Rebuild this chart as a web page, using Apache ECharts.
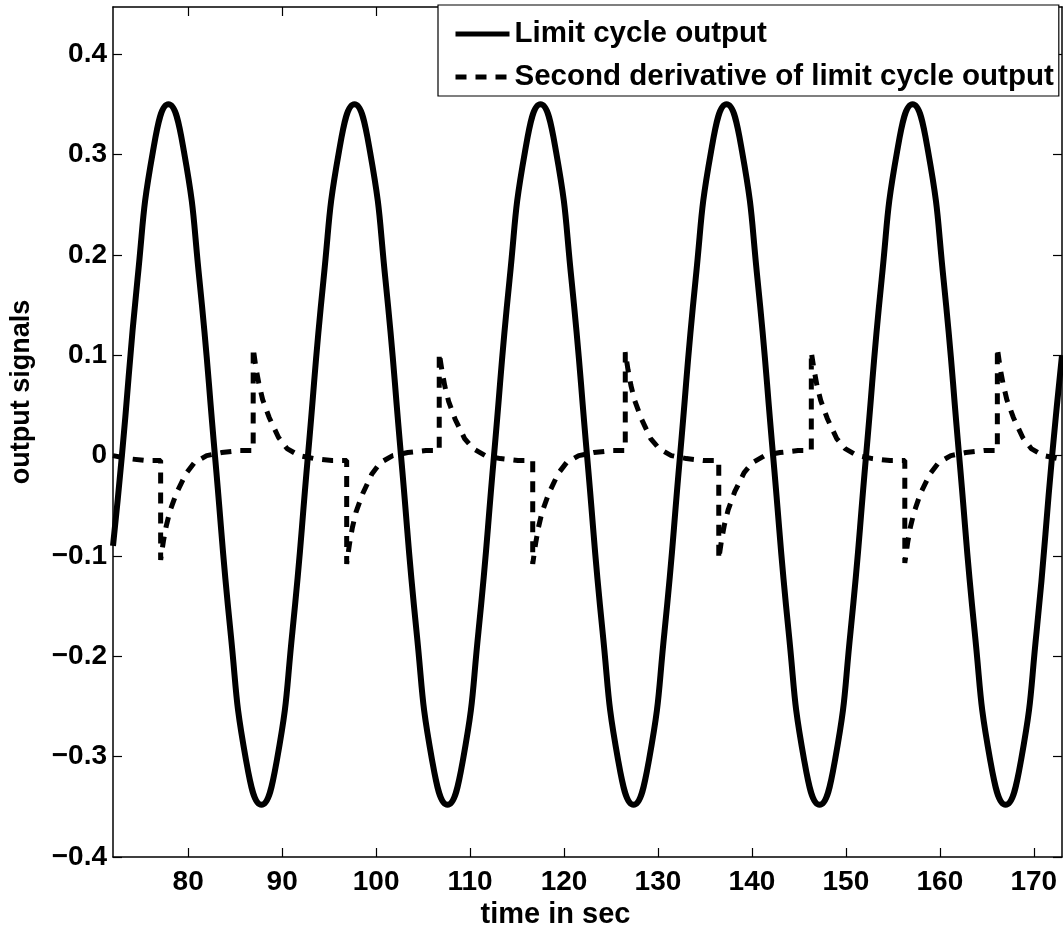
<!DOCTYPE html>
<html>
<head>
<meta charset="utf-8">
<script src="https://cdn.jsdelivr.net/npm/echarts@6/dist/echarts.min.js"></script>
<style>
html,body{margin:0;padding:0;background:#fff;}
#chart{width:1063px;height:926px;}
</style>
</head>
<body>
<div id="chart"></div>
<script>
// ---- data ----
const xTickValues = [80, 90, 100, 110, 120, 130, 140, 150, 160, 170];
const xTickLabels = ['80', '90', '100', '110', '120', '130', '140', '150', '160', '170'];
const yTickValues = [-0.4, -0.3, -0.2, -0.1, 0, 0.1, 0.2, 0.3, 0.4];
const yTickLabels = ['\u22120.4', '\u22120.3', '\u22120.2', '\u22120.1', '0', '0.1', '0.2', '0.3', '0.4'];
const seriesNames = ['Limit cycle output', 'Second derivative of limit cycle output'];

// limit cycle output  [time, value]
const limitCycle = [
  [72.0, -0.09],
  [72.95, 0], [74.6, 0.175], [76.25, 0.303], [77.9, 0.35], [79.55, 0.303], [81.2, 0.175],
  [82.85, 0], [84.5, -0.175], [86.15, -0.303], [87.8, -0.348], [89.45, -0.303], [91.1, -0.175],
  [92.75, 0], [94.4, 0.175], [96.05, 0.303], [97.7, 0.35], [99.35, 0.303], [101.0, 0.175],
  [102.65, 0], [104.3, -0.175], [105.95, -0.303], [107.6, -0.348], [109.25, -0.303], [110.9, -0.175],
  [112.55, 0], [114.2, 0.175], [115.85, 0.303], [117.5, 0.35], [119.15, 0.303], [120.8, 0.175],
  [122.45, 0], [124.1, -0.175], [125.75, -0.303], [127.4, -0.348], [129.05, -0.303], [130.7, -0.175],
  [132.35, 0], [134.0, 0.175], [135.65, 0.303], [137.3, 0.35], [138.95, 0.303], [140.6, 0.175],
  [142.25, 0], [143.9, -0.175], [145.55, -0.303], [147.2, -0.348], [148.85, -0.303], [150.5, -0.175],
  [152.15, 0], [153.8, 0.175], [155.45, 0.303], [157.1, 0.35], [158.75, 0.303], [160.4, 0.175],
  [162.05, 0], [163.7, -0.175], [165.35, -0.303], [167.0, -0.348], [168.65, -0.303], [170.3, -0.175],
  [171.95, 0], [173.0, 0.10]
];

// second derivative of limit cycle output  [time, value]
const secondDeriv = [
  [72.0, 0.000], [73.6, -0.003], [75.5, -0.005],
  [77.07, -0.005], [77.07, -0.104], [77.37, -0.085], [77.67, -0.070], [78.07, -0.055], [78.77, -0.037],
  [79.77, -0.018], [80.67, -0.007], [81.97, 0.000], [83.57, 0.003], [85.5, 0.005],
  [86.92, 0.005], [86.92, 0.107], [87.22, 0.087], [87.52, 0.072], [87.92, 0.056], [88.62, 0.038],
  [89.62, 0.018], [90.52, 0.007], [91.82, 0.000], [93.42, -0.003], [95.3, -0.005],
  [96.87, -0.005], [96.87, -0.108], [97.17, -0.088], [97.47, -0.072], [97.87, -0.056], [98.57, -0.038],
  [99.57, -0.018], [100.47, -0.007], [101.77, 0.000], [103.37, 0.003], [105.3, 0.005],
  [106.72, 0.005], [106.72, 0.102], [107.02, 0.084], [107.32, 0.069], [107.72, 0.054], [108.42, 0.036],
  [109.42, 0.017], [110.32, 0.007], [111.62, 0.000], [113.22, -0.003], [115.1, -0.005],
  [116.67, -0.005], [116.67, -0.108], [116.97, -0.088], [117.27, -0.072], [117.67, -0.056], [118.37, -0.038],
  [119.37, -0.018], [120.27, -0.007], [121.57, 0.000], [123.17, 0.003], [125.1, 0.005],
  [126.52, 0.005], [126.52, 0.103], [126.82, 0.085], [127.12, 0.070], [127.52, 0.055], [128.22, 0.037],
  [129.22, 0.017], [130.12, 0.007], [131.42, 0.000], [133.02, -0.003], [134.9, -0.005],
  [136.47, -0.005], [136.47, -0.103], [136.77, -0.084], [137.07, -0.069], [137.47, -0.054], [138.17, -0.036],
  [139.17, -0.017], [140.07, -0.007], [141.37, 0.000], [142.97, 0.003], [144.9, 0.005],
  [146.32, 0.005], [146.32, 0.103], [146.62, 0.085], [146.92, 0.070], [147.32, 0.055], [148.02, 0.037],
  [149.02, 0.017], [149.92, 0.007], [151.22, 0.000], [152.82, -0.003], [154.7, -0.005],
  [156.27, -0.005], [156.27, -0.107], [156.57, -0.087], [156.87, -0.071], [157.27, -0.056], [157.97, -0.037],
  [158.97, -0.018], [159.87, -0.007], [161.17, 0.000], [162.77, 0.003], [164.7, 0.005],
  [166.12, 0.005], [166.12, 0.107], [166.42, 0.087], [166.72, 0.072], [167.12, 0.056], [167.82, 0.038],
  [168.82, 0.018], [169.72, 0.007], [171.02, 0.000], [172.62, -0.003], [173.0, -0.003]
];

// ---- chart ----
const FONT = '"Liberation Sans", Arial, Helvetica, sans-serif';
const chart = echarts.init(document.getElementById('chart'), null, {renderer: 'canvas'});

function xLabel(v) {
  const i = xTickValues.findIndex(t => Math.abs(t - v) < 1e-6);
  return i >= 0 ? xTickLabels[i] : '';
}
function yLabel(v) {
  const i = yTickValues.findIndex(t => Math.abs(t - v) < 1e-6);
  return i >= 0 ? yTickLabels[i] : '';
}

const axisLineStyle = {color: '#000', width: 1.5};
const tickStyle = {show: true, inside: true, length: 9, lineStyle: {color: '#000', width: 1.2}};
const dashType = [11, 9];

chart.setOption({
  animation: false,
  backgroundColor: '#fff',
  grid: {left: 113, right: 1, top: 7, bottom: 69, containLabel: false, outerBoundsMode: 'none'},
  legend: {
    orient: 'vertical',
    left: 438,
    top: 5,
    itemWidth: 54,
    itemHeight: 14,
    itemGap: 11,
    padding: [13, 5, 3, 15],
    backgroundColor: '#fff',
    borderColor: '#000',
    borderWidth: 1.2,
    borderRadius: 0,
    itemStyle: {color: 'rgba(0,0,0,0)', borderWidth: 0, opacity: 0},
    data: [
      {name: seriesNames[0], lineStyle: {color: '#000', width: 5, type: 'solid'}},
      {name: seriesNames[1], lineStyle: {color: '#000', width: 5, type: dashType}}
    ],
    textStyle: {fontFamily: FONT, fontWeight: 'bold', fontSize: 29.5, color: '#000', lineHeight: 32}
  },
  xAxis: [{
    type: 'value',
    min: 72, max: 173,
    position: 'bottom',
    name: 'time in sec',
    nameLocation: 'middle',
    nameGap: 30,
    nameTextStyle: {fontFamily: FONT, fontWeight: 'bold', fontSize: 29, color: '#000', padding: [0, 64, 0, 0]},
    axisLine: {show: true, onZero: false, lineStyle: axisLineStyle},
    axisTick: Object.assign({customValues: xTickValues}, tickStyle),
    axisLabel: {customValues: xTickValues, formatter: xLabel, margin: 11,
      fontFamily: FONT, fontWeight: 'bold', fontSize: 28, color: '#000'},
    splitLine: {show: false}
  }, {
    type: 'value',
    min: 72, max: 173,
    position: 'top',
    axisLine: {show: true, onZero: false, lineStyle: axisLineStyle},
    axisTick: Object.assign({customValues: xTickValues}, tickStyle),
    axisLabel: {show: false},
    splitLine: {show: false}
  }],
  yAxis: [{
    type: 'value',
    min: -0.4, max: 0.447,
    position: 'left',
    name: 'output signals',
    nameLocation: 'middle',
    nameGap: 78,
    nameRotate: 90,
    nameTextStyle: {fontFamily: FONT, fontWeight: 'bold', fontSize: 27, color: '#000', padding: [0, 0, 0, 80]},
    axisLine: {show: true, onZero: false, lineStyle: axisLineStyle},
    axisTick: Object.assign({customValues: yTickValues}, tickStyle),
    axisLabel: {customValues: yTickValues, formatter: yLabel, margin: 6,
      fontFamily: FONT, fontWeight: 'bold', fontSize: 28, color: '#000'},
    splitLine: {show: false}
  }, {
    type: 'value',
    min: -0.4, max: 0.447,
    position: 'right',
    axisLine: {show: true, onZero: false, lineStyle: axisLineStyle},
    axisTick: Object.assign({customValues: yTickValues}, tickStyle),
    axisLabel: {show: false},
    splitLine: {show: false}
  }],
  series: [{
    name: seriesNames[0],
    type: 'line',
    xAxisIndex: 0, yAxisIndex: 0,
    data: limitCycle,
    smooth: 0.5,
    showSymbol: false,
    symbol: 'none',
    clip: true,
    color: '#000',
    lineStyle: {color: '#000', width: 6, type: 'solid'},
    z: 2
  }, {
    name: seriesNames[1],
    type: 'line',
    xAxisIndex: 0, yAxisIndex: 0,
    data: secondDeriv,
    smooth: false,
    showSymbol: false,
    symbol: 'none',
    clip: true,
    color: '#000',
    lineStyle: {color: '#000', width: 5, type: dashType, cap: 'butt'},
    z: 3
  }]
});
</script>
</body>
</html>
